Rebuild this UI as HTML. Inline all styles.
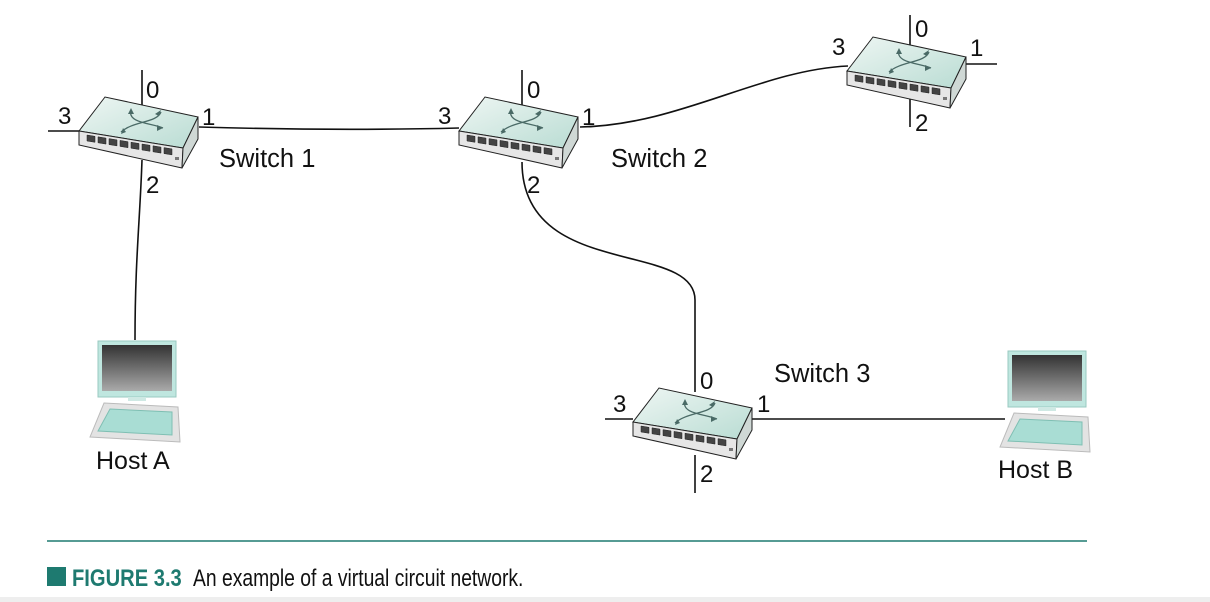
<!DOCTYPE html>
<html><head><meta charset="utf-8"><style>
body{margin:0;background:#fff;width:1210px;height:602px;overflow:hidden;position:relative;font-family:"Liberation Sans",sans-serif}
svg{position:absolute;left:0;top:0}
</style></head><body>
<svg width="1210" height="602" viewBox="0 0 1210 602">
<defs>
<linearGradient id="tg" x1="0" y1="0" x2="1" y2="1"><stop offset="0" stop-color="#eef6f3"/><stop offset="1" stop-color="#b9dcd3"/></linearGradient>
<linearGradient id="mg" x1="0" y1="0" x2="0" y2="1"><stop offset="0" stop-color="#333"/><stop offset="1" stop-color="#aaa"/></linearGradient>
<g id="sw">
<polygon points="0,0 26,-34 119,-14 104,17" fill="url(#tg)" stroke="#222" stroke-width="1"/>
<polygon points="0,0 104,17 103,37 0,14" fill="#e6e6e6" stroke="#222" stroke-width="1"/>
<polygon points="104,17 119,-14 119,8 103,37" fill="#cfd8d5" stroke="#222" stroke-width="1"/>
<g fill="#444" stroke="#222" stroke-width="0.5">
<polygon points="8,4 16,5.3 16,11.3 8,10"/><polygon points="19,5.8 27,7.1 27,13.1 19,11.8"/>
<polygon points="30,7.6 38,8.9 38,14.9 30,13.6"/><polygon points="41,9.4 49,10.7 49,16.7 41,15.4"/>
<polygon points="52,11.2 60,12.5 60,18.5 52,17.2"/><polygon points="63,13 71,14.3 71,20.3 63,19"/>
<polygon points="74,14.8 82,16.1 82,22.1 74,20.8"/><polygon points="85,16.6 93,17.9 93,23.9 85,22.6"/>
</g>
<rect x="96" y="26" width="4" height="3" fill="#777"/>
<g fill="none" stroke="#4a6a66" stroke-width="1.3">
<path d="M52,-21 C48,-8 72,-8 84,-3"/><path d="M82,-19 C78,-8 54,-10 42,1"/>
</g>
<g fill="#4a6a66"><polygon points="52,-23 49,-17 55,-17"/><polygon points="84,-3 78,-6 78,0"/><polygon points="82,-21 76,-17 80,-15"/><polygon points="42,3 44,-3 47,1"/></g>
</g>
<g id="pc">
<rect x="0" y="0" width="78" height="56" fill="#bfe6df" stroke="#9ac9c0"/>
<rect x="4" y="4" width="70" height="46" fill="url(#mg)"/>
<rect x="30" y="56" width="18" height="4" fill="#cfe9e4"/>
<polygon points="6,62 80,66 82,101 -8,96" fill="#e3e3e3" stroke="#bbb"/>
<polygon points="12,68 74,71 74,94 0,90" fill="#a9ddd4" stroke="#7fbfb3"/>
</g>
</defs>
<g fill="none" stroke="#111" stroke-width="1.6">
<line x1="48" y1="131" x2="79" y2="131"/><line x1="142" y1="70" x2="142" y2="105"/>
<path d="M142,160 C140,220 135,260 135,340"/>
<path d="M199,127 C300,130 380,130 459,128"/>
<line x1="522" y1="70" x2="522" y2="105"/>
<path d="M522,162 C522,280 695,240 695,300 L695,392"/>
<path d="M580,127 C680,125 760,70 848,66"/>
<line x1="910" y1="15" x2="910" y2="45"/><line x1="910" y1="90" x2="910" y2="127"/>
<line x1="965" y1="64" x2="997" y2="64"/>
<line x1="605" y1="419" x2="633" y2="419"/><line x1="695" y1="455" x2="695" y2="493"/>
<path d="M752,419 L1005,419"/>
</g>
<use href="#sw" transform="translate(79,131)"/>
<use href="#sw" transform="translate(459,131)"/>
<use href="#sw" transform="translate(847,71)"/>
<use href="#sw" transform="translate(633,422)"/>
<use href="#pc" transform="translate(98,341)"/>
<use href="#pc" transform="translate(1008,351)"/>
<g font-family="Liberation Sans,sans-serif" font-size="24" fill="#111">
<text x="58" y="124">3</text><text x="146" y="98">0</text><text x="202" y="125">1</text><text x="146" y="193">2</text>
<text x="219" y="167" font-size="25.5">Switch 1</text>
<text x="438" y="124">3</text><text x="527" y="98">0</text><text x="582" y="125">1</text><text x="527" y="193">2</text>
<text x="611" y="167" font-size="25.5">Switch 2</text>
<text x="832" y="55">3</text><text x="915" y="37">0</text><text x="970" y="56">1</text><text x="915" y="131">2</text>
<text x="613" y="412">3</text><text x="700" y="389">0</text><text x="757" y="412">1</text><text x="700" y="482">2</text>
<text x="774" y="382" font-size="25.5">Switch 3</text>
<text x="96" y="469" font-size="25">Host A</text><text x="998" y="478" font-size="25">Host B</text>
</g>
<line x1="47" y1="541" x2="1087" y2="541" stroke="#1e7a70" stroke-width="1.5"/>
<rect x="47" y="567" width="19" height="19" fill="#1e7a70"/>
<text x="72" y="586" font-size="24" font-weight="bold" fill="#1e7a70" transform="translate(72,0) scale(0.84,1) translate(-72,0)">FIGURE 3.3</text>
<text x="193" y="586" font-size="24" fill="#111" transform="translate(193,0) scale(0.805,1) translate(-193,0)">An example of a virtual circuit network.</text>
<rect x="0" y="597" width="1210" height="5" fill="#eee"/>
</svg>
</body></html>
